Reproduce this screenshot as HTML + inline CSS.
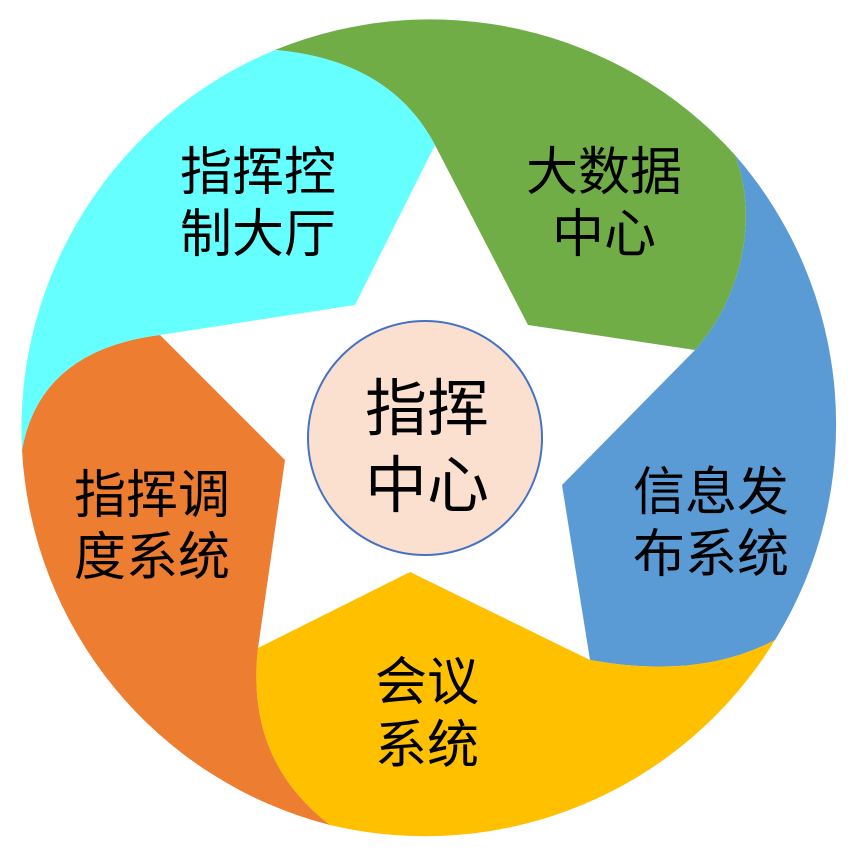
<!DOCTYPE html>
<html><head><meta charset="utf-8"><style>
html,body{margin:0;padding:0;background:#fff;}
svg{display:block;}
text{font-family:"Liberation Sans","Noto Sans CJK SC",sans-serif;fill:#000;text-anchor:middle;}
</style></head><body>
<svg width="860" height="860" viewBox="0 0 860 860">
<path d="M435,145 L528,325 L695,350 C740,300 760,220 735,155 A410,410 0 0 0 275,50 Q390,60 435,145 Z" fill="#70AD47"/>
<path d="M695,350 L562,485 L590,660 Q700,680 775,640 A410,410 0 0 0 735,155 C760,220 740,300 695,350 Z" fill="#5B9BD5"/>
<path d="M590,660 L410,572 L258,648 Q245,760 330,825 A410,410 0 0 0 775,640 Q700,680 590,660 Z" fill="#FFC000"/>
<path d="M258,648 L285,460 L160,335 Q40,350 22,450 A410,410 0 0 0 330,825 Q245,760 258,648 Z" fill="#ED7D31"/>
<path d="M160,335 L355,305 L435,145 Q390,60 275,50 A410,410 0 0 0 22,450 Q40,350 160,335 Z" fill="#66FFFF"/>
<circle cx="425" cy="438" r="117" fill="#FBE0D0" stroke="#4472C4" stroke-width="2"/>
<g font-size="52">
<text x="258" y="190">指挥控</text><text x="258" y="252">制大厅</text>
<text x="604" y="190">大数据</text><text x="604" y="252">中心</text>
<text x="711" y="510">信息发</text><text x="711" y="572">布系统</text>
<text x="427" y="700">会议</text><text x="427" y="763">系统</text>
<text x="152" y="513">指挥调</text><text x="152" y="575">度系统</text>
</g>
<g font-size="62">
<text x="427" y="430">指挥</text><text x="427" y="507">中心</text>
</g>
</svg>
</body></html>
